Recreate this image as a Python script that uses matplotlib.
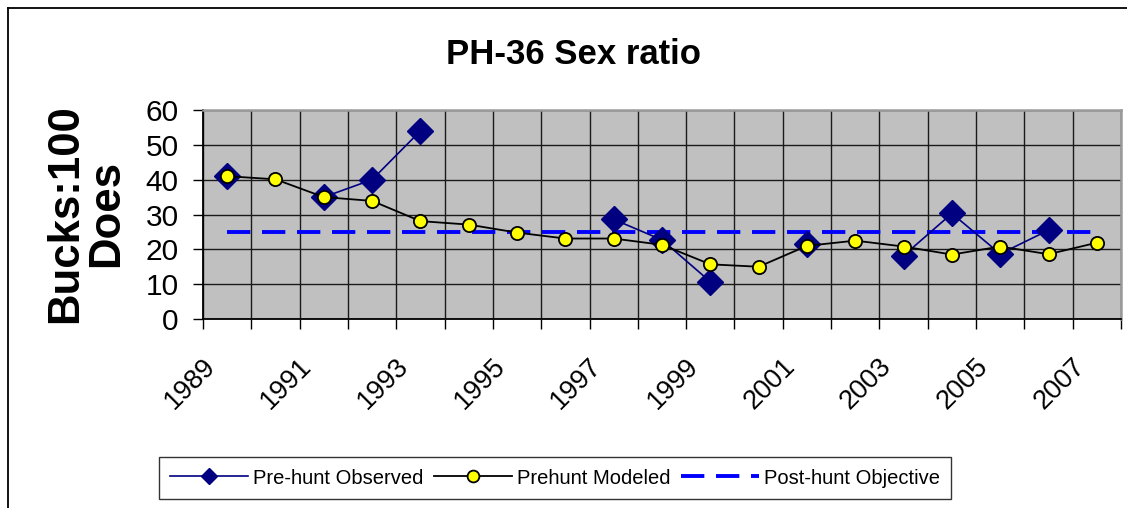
import numpy as np
import matplotlib
matplotlib.use("Agg")
import matplotlib.pyplot as plt
from matplotlib.lines import Line2D
import matplotlib.transforms as mtransforms

years = list(range(1989, 2008))
observed = [41, np.nan, 35, 40, 54, np.nan, np.nan, np.nan, 28.6, 22.7, 10.7,
            np.nan, 21.5, np.nan, 18.2, 30.3, 18.7, 25.5, np.nan]
modeled = [41, 40.1, 35, 33.9, 28.1, 27.1, 24.8, 23.1, 23.1, 21.3, 15.7,
           15.0, 21.0, 22.5, 20.8, 18.5, 20.8, 18.6, 21.9]
objective = [25] * len(years)
y_ticks = [0, 10, 20, 30, 40, 50, 60]

title = "PH-36 Sex ratio"
ylabel = "Bucks:100\nDoes"
series_names = ["Pre-hunt Observed", "Prehunt Modeled", "Post-hunt Objective"]

FONT = ["Liberation Sans", "DejaVu Sans"]

W, H = 1127, 508
fig = plt.figure(figsize=(W / 100, H / 100), dpi=100)
fig.patch.set_facecolor("white")

left, right, top, bottom = 203, 1121, 110, 319
ax = fig.add_axes([left / W, 1 - bottom / H, (right - left) / W, (bottom - top) / H])
ax.set_facecolor("#C0C0C0")

x = np.arange(len(years))

l_obj, = ax.plot(x, objective, color="#0000FF", lw=2.8, dashes=(6, 3), zorder=3,
                 label=series_names[2])
l_obs, = ax.plot(x, observed, color="#000080", lw=1.2, marker="D", ms=13,
                 mfc="#000080", mec="#000080", zorder=4, label=series_names[0])
l_mod, = ax.plot(x, modeled, color="black", lw=1.3, marker="o", ms=9.5,
                 mfc="#FFFF00", mec="black", mew=1.3, zorder=5, label=series_names[1])

ax.set_xlim(-0.5, len(years) - 0.5)
ax.set_ylim(0, 60)
ax.set_yticks(y_ticks)
ax.set_yticklabels([str(v) for v in y_ticks], fontfamily=FONT, fontsize=21.5)
ax.tick_params(axis="y", direction="out", length=7.5, width=1, pad=10, colors="black")

ax.set_xticks(x[::2])
ax.set_xticklabels([str(y) for y in years[::2]])
ax.set_xticks(np.arange(-0.5, len(years), 1), minor=True)
ax.tick_params(axis="x", which="major", length=0, pad=31)
ax.tick_params(axis="x", which="minor", direction="out", length=7.5, width=1, color="black")
offset = mtransforms.ScaledTranslation(-16 / 100, 0, fig.dpi_scale_trans)
for lab in ax.get_xticklabels():
    lab.set_rotation(45)
    lab.set_rotation_mode("anchor")
    lab.set_ha("right")
    lab.set_va("center")
    lab.set_fontfamily(FONT)
    lab.set_fontsize(19.5)
    lab.set_transform(lab.get_transform() + offset)

ax.grid(which="minor", axis="x", color="#1a1a1a", lw=1)
ax.grid(which="major", axis="y", color="#1a1a1a", lw=1)
ax.grid(which="major", axis="x", visible=False)
ax.set_axisbelow(True)

for s in ["left", "bottom"]:
    ax.spines[s].set_color("black")
    ax.spines[s].set_linewidth(1.3)
for s in ["top", "right"]:
    ax.spines[s].set_color("#9a9a9a")
    ax.spines[s].set_linewidth(1.8)

fig.text(573 / W, 1 - 54 / H, title, ha="center", va="center",
         fontfamily=FONT, fontweight="bold", fontsize=25)
fig.text(86 / W, 1 - 214 / H, ylabel, ha="center", va="center", rotation=90,
         multialignment="center", fontfamily=FONT, fontweight="bold", fontsize=31.5,
         linespacing=1.0)

leg = fig.legend(handles=[l_obs, l_mod, l_obj], labels=series_names,
                 loc="center", bbox_to_anchor=(555 / W, 1 - 478 / H), ncol=3,
                 frameon=True, fancybox=False, shadow=False, numpoints=1,
                 prop={"family": FONT, "size": 14.5}, handlelength=3.9,
                 handletextpad=0.25, columnspacing=0.5, borderpad=0.55,
                 borderaxespad=0)
leg.get_frame().set_edgecolor("black")
leg.get_frame().set_linewidth(1)
hs = leg.legend_handles
hs[0].set_markersize(8)
hs[1].set_markersize(8.5)

fig.add_artist(Line2D([8 / W, 1], [1 - 8 / H, 1 - 8 / H], color="black", lw=1.3,
                      transform=fig.transFigure))
fig.add_artist(Line2D([8 / W, 8 / W], [0, 1 - 8 / H], color="black", lw=1.3,
                      transform=fig.transFigure))

fig.savefig("out.png", dpi=100, facecolor="white")
